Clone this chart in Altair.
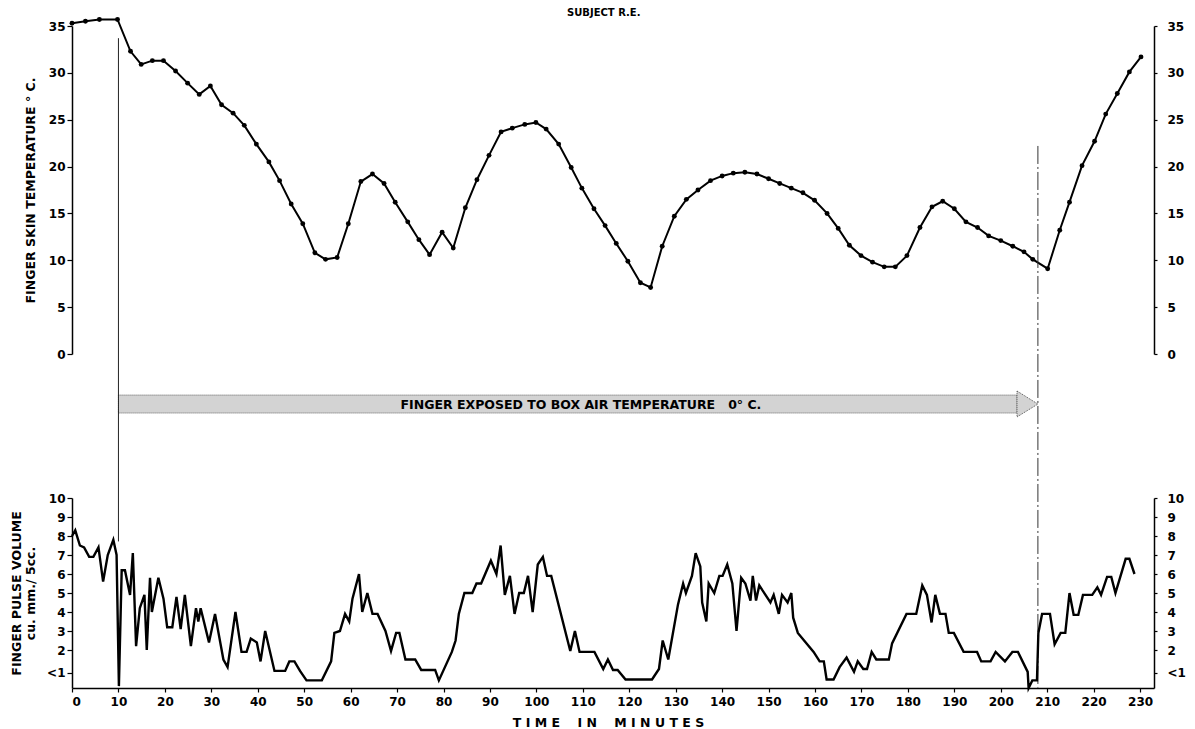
import altair as alt
import pandas as pd

FONT = "DejaVu Sans"
NB = "\u00a0"

# ---------------- data ----------------
temp_time = [0, 2.9, 5.9, 9.8, 12.6, 14.9, 17.3, 19.7, 22.3, 24.9, 27.4, 29.8, 32.2, 34.7,
             37.1, 39.7, 42.4, 44.7, 47.2, 49.7, 52.3, 54.6, 57.1, 59.5, 62.2, 64.7, 67.2,
             69.6, 72.3, 74.7, 77.0, 79.7, 82.1, 84.7, 87.2, 89.8, 92.4, 94.8, 97.5, 99.9,
             102.1, 104.8, 107.5, 109.8, 112.4, 114.8, 117.2, 119.7, 122.4, 124.6, 127.1,
             129.7, 132.3, 134.8, 137.5, 140.0, 142.4, 144.9, 147.5, 150.0, 152.4, 154.9,
             157.4, 159.9, 162.6, 165.0, 167.4, 169.9, 172.4, 174.9, 177.3, 179.8, 182.6,
             185.2, 187.5, 190.0, 192.5, 195.0, 197.4, 200.0, 202.6, 205.0, 206.9, 210.1,
             212.7, 214.8, 217.5, 220.2, 222.6, 225.1, 227.7, 230.2]
temp_value = [35.3, 35.5, 35.7, 35.7, 32.3, 30.9, 31.3, 31.3, 30.2, 28.9, 27.7, 28.6, 26.6, 25.7,
              24.4, 22.4, 20.5, 18.5, 16.0, 13.9, 10.8, 10.1, 10.3, 13.9, 18.4, 19.2, 18.2,
              16.2, 14.1, 12.2, 10.6, 13.0, 11.3, 15.6, 18.6, 21.2, 23.7, 24.1, 24.5, 24.7,
              24.0, 22.4, 19.9, 17.7, 15.5, 13.7, 11.8, 9.9, 7.6, 7.1, 11.5,
              14.7, 16.5, 17.5, 18.5, 19.0, 19.3, 19.4, 19.2, 18.7, 18.2, 17.7,
              17.2, 16.4, 15.0, 13.4, 11.6, 10.5, 9.8, 9.3, 9.3, 10.5, 13.5,
              15.7, 16.3, 15.5, 14.1, 13.5, 12.6, 12.1, 11.5, 10.9, 10.1, 9.1,
              13.2, 16.2, 20.1, 22.7, 25.6, 27.8, 30.1, 31.7]

pulse_time = [0, 0.7, 1.7, 2.6, 3.7, 4.6, 5.7, 6.7, 7.7, 8.9, 9.6, 10.1, 10.7, 11.4, 12.5, 13.1,
              13.8, 14.6, 15.6, 16.1, 16.8, 17.2, 18.6, 19.7, 20.5, 21.6, 22.5, 23.4, 24.3,
              25.6, 26.7, 27.2, 27.7, 29.5, 30.8, 32.6, 33.5, 35.2, 36.5, 37.6, 38.5, 39.8,
              40.6, 41.6, 43.6, 45.9, 46.8, 47.9, 49.1, 50.5, 53.8, 55.8, 56.5, 57.7, 58.8,
              59.7, 60.4, 61.8, 62.5, 63.6, 64.7, 65.8, 67.5, 68.7, 69.8, 70.5, 71.8, 73.9,
              75.2, 78.2, 79.0, 81.8, 82.6, 83.3, 84.5, 86.2, 87.1, 88.1, 90.2, 91.4, 92.3,
              93.2, 94.3, 95.3, 96.3, 97.3, 98.2, 99.2, 100.3, 101.4, 102.3, 103.2, 107.3,
              108.3, 109.3, 112.5, 114.4, 115.4, 116.5, 117.5, 119.2, 124.9, 126.4, 127.2,
              128.4, 130.5, 131.6, 132.2, 133.5, 134.3, 135.3, 135.7, 136.6, 137.1, 138.3,
              139.4, 140.1, 141.1, 142.2, 143.1, 144.1, 145.0, 146.1, 146.6, 147.3, 148.0,
              150.4, 151.1, 152.2, 152.9, 154.1, 154.9, 155.3, 156.3, 159.7, 161.0, 161.9,
              162.5, 164.0, 165.3, 166.8, 168.4, 169.2, 170.4, 171.2, 172.2, 173.2, 175.9,
              176.6, 179.7, 181.8, 183.1, 184.1, 185.1, 185.9, 186.9, 188.1, 188.8, 189.9,
              192.0, 194.9, 195.8, 197.8, 198.9, 200.9, 202.5, 203.7, 205.8, 206.0, 206.8,
              207.8, 208.1, 208.9, 210.6, 211.6, 212.9, 213.9, 214.8, 215.7, 216.7, 217.7,
              219.7, 220.8, 221.6, 222.9, 223.8, 224.7, 226.9, 227.7, 228.8]
pulse_value = [8.0, 8.3, 7.5, 7.4, 6.9, 6.9, 7.4, 5.6, 7.0, 7.8, 7.0, 0.1, 6.2, 6.2, 4.9, 7.1,
               2.2, 4.2, 4.9, 2.0, 5.8, 4.0, 5.8, 4.7, 3.2, 3.2, 4.8, 3.1, 4.9,
               2.2, 4.2, 3.5, 4.2, 2.4, 3.9, 1.5, 1.1, 4.0, 1.9, 1.9, 2.6, 2.4,
               1.4, 3.0, 0.9, 0.9, 1.4, 1.4, 0.9, 0.4, 0.4, 1.4, 2.9, 3.0, 3.9,
               3.5, 4.7, 6.0, 4.0, 5.0, 3.9, 3.9, 3.0, 1.95, 2.9, 2.9, 1.5, 1.5,
               0.95, 0.95, 0.4, 1.9, 2.5, 3.9, 5.0, 5.0, 5.5, 5.5, 6.7, 6.0, 7.5,
               4.9, 5.9, 3.9, 5.0, 5.0, 5.9, 4.0, 6.5, 6.9, 5.9, 5.9, 1.95,
               3.0, 1.9, 1.9, 1.0, 1.5, 0.95, 0.95, 0.45, 0.45, 1.0, 2.5,
               1.5, 4.4, 5.5, 5.0, 5.9, 7.1, 6.4, 4.5, 3.5, 5.5, 5.0,
               5.9, 5.9, 6.5, 5.5, 3.0, 5.8, 5.5, 4.6, 5.9, 4.6, 5.4,
               4.5, 4.9, 3.9, 4.9, 4.5, 5.0, 3.7, 2.9, 1.9, 1.4, 1.4,
               0.45, 0.45, 1.1, 1.6, 0.85, 1.4, 1.0, 1.0, 1.9, 1.5, 1.5,
               2.35, 3.9, 3.9, 5.4, 4.9, 3.45, 4.9, 3.9, 3.9, 2.9, 2.9,
               1.9, 1.9, 1.4, 1.4, 1.9, 1.4, 1.9, 1.9, 0.85, 0.0, 0.4,
               0.4, 2.9, 3.9, 3.9, 2.3, 2.9, 2.9, 5.0, 3.85, 3.85, 4.9,
               4.9, 5.3, 4.9, 5.85, 5.85, 5.0, 6.8, 6.8, 6.0]

temp_ticks = [0, 5, 10, 15, 20, 25, 30, 35]
pulse_ticks = [0.8, 2, 3, 4, 5, 6, 7, 8, 9, 10]
time_ticks = list(range(0, 231, 10))

subject_label = ["SUBJECT R.E."]
arrow_label = ["FINGER EXPOSED TO BOX AIR TEMPERATURE " + NB + NB + "0° C."]
time_title = "T I M E " + NB + NB + " I N " + NB + NB + " M I N U T E S"
exposure_start = [10]
exposure_end = [208]

# ---------------- tables ----------------
temp_df = pd.DataFrame({"time": temp_time, "temp": temp_value})
pulse_df = pd.DataFrame({"time": pulse_time, "pulse": pulse_value})

W = 1082
x_scale = alt.Scale(domain=[0, 233.0], nice=False, zero=False)
t_scale = alt.Scale(domain=[0, 35], nice=False, zero=False)
p_scale = alt.Scale(domain=[0, 10], nice=False, zero=False)

X_NONE = alt.X("time:Q", scale=x_scale, axis=None)

# ---------------- top panel: skin temperature ----------------
top_line = alt.Chart(temp_df).mark_line(color="black", strokeWidth=2).encode(
    x=X_NONE,
    y=alt.Y("temp:Q", scale=t_scale,
            axis=alt.Axis(orient="left", values=temp_ticks, format="d", grid=False,
                          title="FINGER SKIN TEMPERATURE ° C.",
                          tickSize=5, labelPadding=2, titlePadding=11)),
)
top_pts = alt.Chart(temp_df).mark_circle(color="black", size=24, opacity=1).encode(
    x=X_NONE,
    y=alt.Y("temp:Q", scale=t_scale,
            axis=alt.Axis(orient="right", values=temp_ticks, format="d", title=None,
                          grid=False, tickSize=3, labelPadding=10)),
)

# exposure band (arrow body) in temperature units below the panel
band_df = pd.DataFrame({"time": exposure_start, "time2": [203.5],
                        "ytop": [-4.38], "ybot": [-6.3]})
band = alt.Chart(band_df).mark_rect(fill="#d3d3d3", stroke="#444", strokeWidth=0.8,
                                    strokeDash=[1, 1], clip=False).encode(
    x=alt.X("time:Q", scale=x_scale, axis=None), x2="time2:Q",
    y=alt.Y("ytop:Q", scale=t_scale, axis=None), y2="ybot:Q",
)
head_df = pd.DataFrame({"time": [203.5, exposure_end[0]],
                        "ytop": [-3.95, -5.34], "ybot": [-6.72, -5.34]})
head = alt.Chart(head_df).mark_area(fill="#d3d3d3", stroke="#444", strokeWidth=0.9,
                                    strokeDash=[1, 1], clip=False, opacity=1).encode(
    x=alt.X("time:Q", scale=x_scale, axis=None),
    y=alt.Y("ytop:Q", scale=t_scale, axis=None), y2="ybot:Q",
)
arrow_text_df = pd.DataFrame({"time": [109.6], "y": [-5.4], "label": arrow_label})
arrow_text = alt.Chart(arrow_text_df).mark_text(font=FONT, fontSize=12.5, fontWeight="bold",
                                                color="black", clip=False).encode(
    x=alt.X("time:Q", scale=x_scale, axis=None),
    y=alt.Y("y:Q", scale=t_scale, axis=None), text="label:N",
)
subject_df = pd.DataFrame({"time": [114.5], "y": [36.92], "label": subject_label})
subject = alt.Chart(subject_df).mark_text(font=FONT, fontSize=10, fontWeight="bold",
                                          color="black", baseline="top", clip=False).encode(
    x=alt.X("time:Q", scale=x_scale, axis=None),
    y=alt.Y("y:Q", scale=t_scale, axis=None), text="label:N",
)

# vertical markers of exposure start / end (drawn across both panels)
start_df = pd.DataFrame({"time": exposure_start, "y1": [33.7], "y2": [-20.0]})
start_rule = alt.Chart(start_df).mark_rule(color="#222", strokeWidth=1, clip=False).encode(
    x=alt.X("time:Q", scale=x_scale, axis=None),
    y=alt.Y("y1:Q", scale=t_scale, axis=None), y2="y2:Q",
)
end_df = pd.DataFrame({"time": exposure_end, "y1": [22.2], "y2": [-35.6]})
end_rule = alt.Chart(end_df).mark_rule(color="#333", strokeWidth=1, strokeDash=[18, 3, 2, 3],
                                       clip=False).encode(
    x=alt.X("time:Q", scale=x_scale, axis=None),
    y=alt.Y("y1:Q", scale=t_scale, axis=None), y2="y2:Q",
)

top = alt.layer(top_line, top_pts, band, head, arrow_text, subject, start_rule, end_rule
                ).resolve_axis(y="independent").properties(width=W, height=328)

# ---------------- bottom panel: pulse volume ----------------
label_expr = "datum.value < 1 ? '<1' : datum.label"
x_axis = alt.Axis(values=time_ticks, format="d", grid=False, title=time_title,
                  tickSize=4, labelPadding=4, titlePadding=9, titleX=536)
bot_line = alt.Chart(pulse_df).mark_line(color="black", strokeWidth=2.4).encode(
    x=alt.X("time:Q", scale=x_scale, axis=x_axis),
    y=alt.Y("pulse:Q", scale=p_scale,
            axis=alt.Axis(orient="left", values=pulse_ticks, labelExpr=label_expr,
                          grid=False, title=["FINGER PULSE VOLUME", "cu. mm./ 5cc."],
                          titleLineHeight=14, tickSize=5, labelPadding=2, titlePadding=9)),
)
bot_right = alt.Chart(pulse_df).mark_line(strokeOpacity=0).encode(
    x=alt.X("time:Q", scale=x_scale, axis=x_axis),
    y=alt.Y("pulse:Q", scale=p_scale,
            axis=alt.Axis(orient="right", values=pulse_ticks, labelExpr=label_expr,
                          grid=False, title=None, tickSize=3, labelPadding=10)),
)
bottom = alt.layer(bot_line, bot_right).resolve_axis(y="independent").properties(
    width=W, height=190)

chart = alt.vconcat(top, bottom, spacing=144, bounds="flush").properties(
    padding={"left": 2, "top": 0, "right": 0, "bottom": 0},
    background="white",
).configure_axis(
    grid=False, domainColor="black", domainWidth=1.5, tickColor="black", tickWidth=1.2,
    labelFont=FONT, labelFontSize=12, labelFontWeight="bold", labelColor="black",
    titleFont=FONT, titleFontSize=12.5, titleFontWeight="bold", titleColor="black",
).configure_view(stroke=None)

chart.save("out.html", embed_options={"renderer": "svg", "actions": False})
